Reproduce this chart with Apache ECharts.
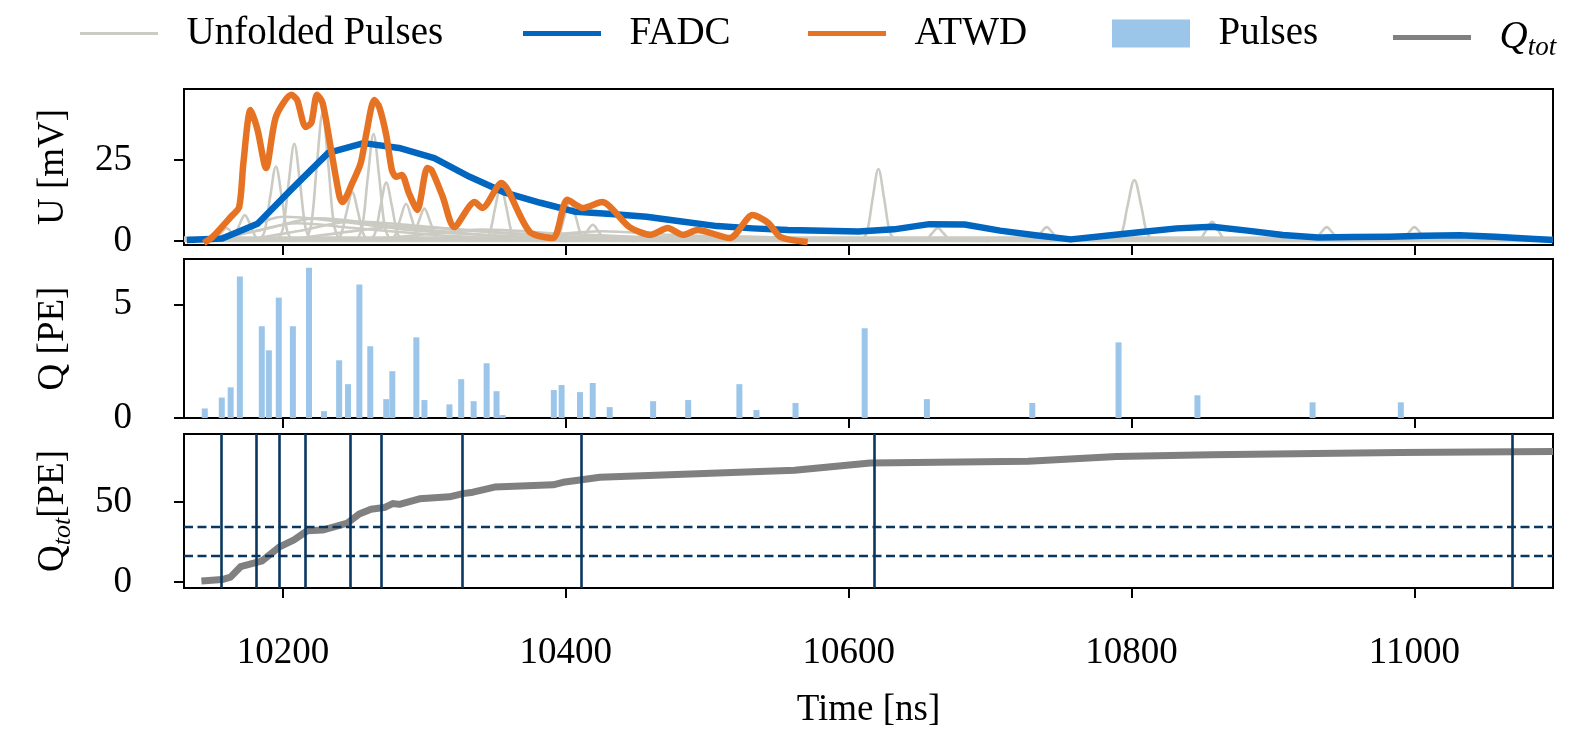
<!DOCTYPE html>
<html>
<head>
<meta charset="utf-8">
<script src="https://cdn.jsdelivr.net/npm/echarts@6/dist/echarts.min.js"></script>
<style>html,body{margin:0;padding:0;background:#fff}#c{width:1569px;height:730px}</style>
</head>
<body>
<div id="c"></div>
<script>
// ---------- data ----------
const xTicks = [10200, 10400, 10600, 10800, 11000];
const uTicks = [0, 25];
const qTicks = [0, 5];
const qtotTicks = [0, 50];

const fadcTime = [10132,10157,10182,10207,10232,10257,10282,10307,10332,10357,10382,10407,10432,10457,10482,10507,10532,10557,10582,10607,10632,10657,10682,10707,10732,10757,10782,10807,10832,10857,10882,10907,10932,10957,10982,11007,11032,11057,11082,11098];
const fadcValues = [0.3,0.8,5.3,16.4,27.2,30.2,28.7,25.6,19.8,14.9,11.8,9.0,8.3,7.5,6.0,4.6,3.9,3.4,3.2,2.9,3.6,5.2,5.1,3.2,1.8,0.5,1.65,2.8,3.9,4.4,3.2,1.85,1.1,1.2,1.3,1.6,1.8,1.3,0.7,0.3];

const atwdTime = [10144,10150,10163,10169,10172,10177,10182,10188,10195,10206,10210,10216,10220,10224,10228,10234,10240,10242,10249,10255,10259,10264.5,10268,10273,10277,10280,10284,10289,10295,10302,10305,10313,10321,10335.5,10341,10354.5,10359,10374.5,10391,10401,10412,10425.5,10445,10460,10472,10483,10493,10516,10532,10543,10552,10571];
const atwdValues = [-0.6,1.2,7.4,10.5,24.1,40.4,34.3,22.5,38.3,45.1,43.5,35.2,36.4,45.1,42.6,28.1,13.6,12.0,17.9,24.1,33.3,43.5,41.4,32.7,21.9,19.8,20.4,14.8,9.6,22.5,21.9,13.6,4.3,12.0,10.2,17.9,15.7,2.8,0.9,12.7,10.2,12.0,4.3,1.9,4.0,1.9,3.4,0.9,8.0,5.6,1.2,-0.3];

const unfoldedPulses = [
  [[10148,0],[10152,0.5],[10156,2.4],[10160,4],[10164,2.4],[10168,0.5],[10172,0]],
  [[10161,0],[10165,1],[10169,4.8],[10173,8],[10177,4.8],[10181,1],[10185,0]],
  [[10183,0],[10187,3],[10191,13.8],[10195,23],[10199,13.8],[10203,3],[10207,0]],
  [[10196,0],[10200,3.9],[10204,18],[10208,30],[10212,18],[10216,3.9],[10220,0]],
  [[10216,0],[10220,5.1],[10224,23.7],[10228,39.5],[10232,23.7],[10236,5.1],[10240,0]],
  [[10237,0],[10241,2],[10245,9],[10249,15],[10253,9],[10257,2],[10261,0]],
  [[10252,0],[10256,4.3],[10260,19.8],[10264,33],[10268,19.8],[10272,4.3],[10276,0]],
  [[10261,0],[10265,2.3],[10269,10.8],[10273,18],[10277,10.8],[10281,2.3],[10285,0]],
  [[10275,0],[10279,1.5],[10283,6.9],[10287,11.5],[10291,6.9],[10295,1.5],[10299,0]],
  [[10288,0],[10292,1.3],[10296,6],[10300,10],[10304,6],[10308,1.3],[10312,0]],
  [[10342,0],[10346,2.2],[10350,10.2],[10354,17],[10358,10.2],[10362,2.2],[10366,0]],
  [[10391,0],[10395,1.6],[10399,7.5],[10403,12.5],[10407,7.5],[10411,1.6],[10415,0]],
  [[10407,0],[10411,0.7],[10415,3],[10419,5],[10423,3],[10427,0.7],[10431,0]],
  [[10609,0],[10613,2.9],[10617,13.3],[10621,22.2],[10625,13.3],[10629,2.9],[10633,0]],
  [[10651,0],[10655,0.5],[10659,2.4],[10663,4],[10667,2.4],[10671,0.5],[10675,0]],
  [[10728,0],[10732,0.6],[10736,2.6],[10740,4.3],[10744,2.6],[10748,0.6],[10752,0]],
  [[10788,0],[10793,2.4],[10797,10.5],[10802,18.8],[10807,10.5],[10811,2.4],[10816,0]],
  [[10845,0],[10849,0.8],[10853,3.5],[10857,5.9],[10861,3.5],[10865,0.8],[10869,0]],
  [[10926,0],[10930,0.6],[10934,2.6],[10938,4.3],[10942,2.6],[10946,0.6],[10950,0]],
  [[10988,0],[10992,0.6],[10996,2.6],[11000,4.3],[11004,2.6],[11008,0.6],[11012,0]],
  [[10140,0],[10170,3],[10200,7.5],[10240,6],[10300,3],[10380,1],[10450,0]],
  [[10150,0],[10190,4],[10225,7],[10270,5],[10340,2],[10420,0.5],[10480,0]],
  [[10170,0],[10210,3],[10250,6],[10300,4.5],[10370,2],[10450,0.6],[10520,0]],
  [[10150,0],[10180,3],[10210,5.5],[10250,4],[10320,1.5],[10400,0]],
  [[10200,0],[10240,2.5],[10285,4.5],[10340,3],[10420,1],[10500,0]],
  [[10250,0],[10300,2],[10340,3.5],[10400,2.2],[10480,0.8],[10560,0]],
  [[10330,0],[10380,1.5],[10425,3],[10470,2],[10540,0.8],[10600,0]],
  [[10400,0],[10450,1],[10500,1.5],[10560,1],[10640,0.3],[10700,0]],
  [[10130,0],[11098,0]],
  [[10130,0.6],[10600,0.7],[11098,0.5]],
  [[10130,1.1],[10600,1.1],[11098,0.9]]
];

const pulseTime = [10144.7,10156.7,10163,10169.5,10185,10190,10197,10207,10218.4,10229,10239.7,10246,10254,10261.7,10273,10277.3,10294.3,10300,10317.7,10326,10334.8,10344,10351,10355.3,10391.5,10397,10410,10419,10431,10461.7,10486.5,10522.7,10534.8,10562.4,10611.3,10655.3,10729.8,10790.8,10846.6,10928,10990.4];
const pulseCharge = [0.42,0.9,1.35,6.23,4.04,2.98,5.3,4.04,6.62,0.3,2.54,1.49,5.88,3.16,0.83,2.06,3.55,0.79,0.6,1.71,0.74,2.41,1.18,0.13,1.23,1.45,1.14,1.54,0.48,0.74,0.79,1.49,0.35,0.66,3.95,0.83,0.66,3.33,1.0,0.69,0.69];

const qtotTime = [10142.3,10157,10162.9,10170,10185.3,10197.2,10207.8,10217.2,10227.9,10245.6,10253.9,10262.2,10271.6,10277.5,10282.3,10296.5,10317.7,10327.2,10334.3,10349.6,10391,10398,10410,10424,10561.7,10615.2,10726.8,10789.4,10856,10990,11098];
const qtotValues = [0.6,1.5,3.0,9.5,13.2,21.7,26.3,32.0,32.4,36.8,42.5,45.5,46.5,49.0,48.5,52.0,53.2,55.2,56.1,59.3,60.7,62.3,63.7,65.4,69.8,74.3,75.5,78.5,79.5,80.9,81.6];

const vlineTimes = [10156.6,10181.1,10197.2,10215.6,10247.9,10269.8,10326.4,10411,10617.8,11068.9];
const hlineValues = [16.3, 34.8];

// ---------- style ----------
const FONT = 'Liberation Serif';
const C_UNF = '#cbcbc4', C_FADC = '#0066c0', C_ATWD = '#e67323', C_PUL = '#9bc6ea', C_QTOT = '#808080', C_NAVY = '#0a3760';
const pair = (xs, ys) => xs.map((x, i) => [x, ys[i]]);

const grids = [
  {left: 184, width: 1369, top: 89, height: 156},
  {left: 184, width: 1369, top: 259, height: 159},
  {left: 184, width: 1369, top: 434, height: 159}
].map(g => Object.assign(g, {show: true, borderColor: '#000', borderWidth: 2, containLabel: false}));

function xAx(i) {
  return {
    type: 'value', gridIndex: i, min: 10130, max: 11098,
    axisLine: {show: true, onZero: false, lineStyle: {color: '#000', width: 2}},
    axisTick: {show: true, length: 10, customValues: xTicks, lineStyle: {color: '#000', width: 2}},
    axisLabel: {show: i === 2, customValues: xTicks, margin: 47, fontSize: 37, fontFamily: FONT, color: '#000', formatter: v => String(v)},
    splitLine: {show: false},
    name: i === 2 ? 'Time [ns]' : '', nameLocation: 'middle', nameGap: 104,
    nameTextStyle: {fontSize: 37, fontFamily: FONT, color: '#000'}
  };
}
function yAx(i, min, max, ticks, name, rich) {
  return {
    type: 'value', gridIndex: i, min: min, max: max,
    axisLine: {show: true, onZero: false, lineStyle: {color: '#000', width: 2}},
    axisTick: {show: true, length: 10, customValues: ticks, lineStyle: {color: '#000', width: 2}},
    axisLabel: {customValues: ticks, margin: 52, fontSize: 37, fontFamily: FONT, color: '#000', formatter: v => String(v)},
    splitLine: {show: false},
    name: name, nameLocation: 'middle', nameGap: 112, nameRotate: 90,
    nameTextStyle: {fontSize: 37, fontFamily: FONT, color: '#000', rich: rich}
  };
}

const series = [];
unfoldedPulses.forEach(p => {
  series.push({name: 'Unfolded Pulses', type: 'line', xAxisIndex: 0, yAxisIndex: 0, data: p, symbol: 'none',
    smooth: 0.35, color: C_UNF, lineStyle: {color: C_UNF, width: 2.6}, z: 1, silent: true});
});
series.push({name: 'FADC', type: 'line', xAxisIndex: 0, yAxisIndex: 0, data: pair(fadcTime, fadcValues), symbol: 'none',
  color: C_FADC, lineStyle: {color: C_FADC, width: 6.5, join: 'round'}, z: 3});
series.push({name: 'ATWD', type: 'line', xAxisIndex: 0, yAxisIndex: 0, data: pair(atwdTime, atwdValues), symbol: 'none',
  smooth: 0.25, color: C_ATWD, lineStyle: {color: C_ATWD, width: 6.5, join: 'round'}, z: 4});
series.push({name: 'Pulses', type: 'bar', xAxisIndex: 1, yAxisIndex: 1, data: pair(pulseTime, pulseCharge),
  barWidth: 6, color: C_PUL, itemStyle: {color: C_PUL}});
series.push({name: 'markers', type: 'line', xAxisIndex: 2, yAxisIndex: 2, data: [], symbol: 'none', z: 1,
  markLine: {silent: true, symbol: ['none', 'none'], label: {show: false}, animation: false,
    data: vlineTimes.map(t => ({xAxis: t, lineStyle: {color: C_NAVY, width: 2.6, type: 'solid'}}))
      .concat(hlineValues.map(v => ({yAxis: v, lineStyle: {color: C_NAVY, width: 2.4, type: [9, 4.5]}})))}});
series.push({name: 'Qtot', type: 'line', xAxisIndex: 2, yAxisIndex: 2, data: pair(qtotTime, qtotValues), symbol: 'none',
  color: C_QTOT, lineStyle: {color: C_QTOT, width: 7, join: 'round'}, z: 3});

const linePath = 'path://M0,0H78V5H0Z';
const legTxt = {fontSize: 39, fontFamily: FONT, color: '#000', padding: [0, 0, 0, 23.5],
  rich: {q: {fontSize: 39, fontFamily: FONT, fontStyle: 'italic', lineHeight: 39},
         t: {fontSize: 27, fontFamily: FONT, fontStyle: 'italic', lineHeight: 27, padding: [20, 0, 0, 0]}}};
function leg(name, left, icon, fmt) {
  return {data: [{name: name, icon: icon}], left: left, top: 14, padding: 0, itemWidth: 78, itemHeight: 28, selectedMode: false,
    textStyle: legTxt, formatter: fmt || (n => n)};
}

const option = {
  animation: false,
  backgroundColor: '#fff',
  grid: grids,
  xAxis: [xAx(0), xAx(1), xAx(2)],
  yAxis: [
    yAx(0, -1.23, 46.9, uTicks, 'U [mV]'),
    yAx(1, 0, 7, qTicks, 'Q [PE]'),
    yAx(2, -3.8, 92.5, qtotTicks, '{r|Q}{s|tot}{r|[PE]}', {
      r: {fontSize: 37, fontFamily: FONT, lineHeight: 37},
      s: {fontSize: 26, fontFamily: FONT, fontStyle: 'italic', lineHeight: 26, padding: [19, 0, 0, 0]}})
  ],
  legend: [
    leg('Unfolded Pulses', 80, 'path://M0,0H78V3.2H0Z'),
    leg('FADC', 523, linePath),
    leg('ATWD', 808, linePath),
    leg('Pulses', 1112, 'rect'),
    leg('Qtot', 1393, linePath, () => '{q|Q}{t|tot}')
  ],
  series: series
};
echarts.init(document.getElementById('c'), null, {renderer: 'canvas'}).setOption(option);
</script>
</body>
</html>
